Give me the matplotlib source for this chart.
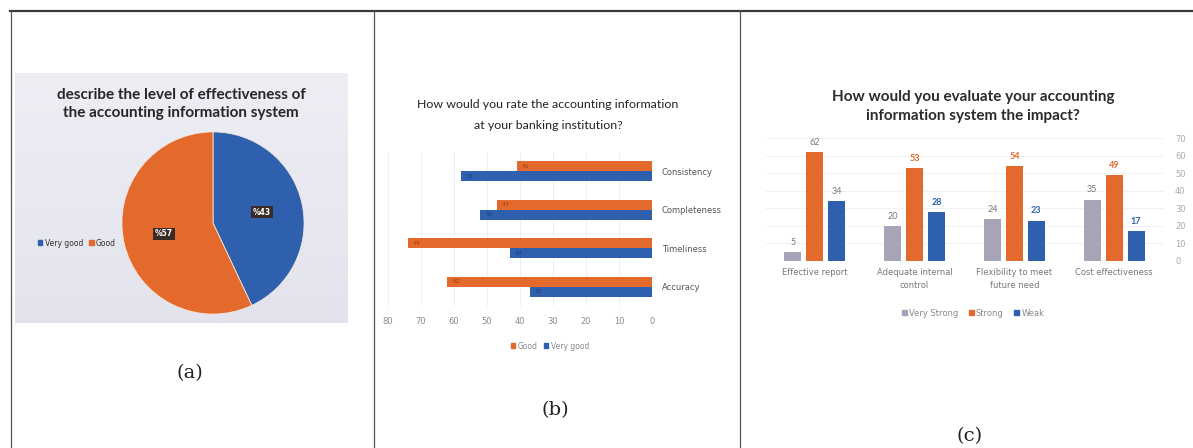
import matplotlib
matplotlib.use("Agg")
import matplotlib.pyplot as plt
from matplotlib.lines import Line2D
from matplotlib.patches import Patch
import numpy as np

W, H = 1193, 448

# (a) pie
pie_labels = ["Very good", "Good"]
pie_values = [43, 57]

# (b) horizontal bars
rate_cats = ["Consistency", "Completeness", "Timeliness", "Accuracy"]
rate_good = [41, 47, 74, 62]
rate_very_good = [58, 52, 43, 37]
rate_ticks = [0, 10, 20, 30, 40, 50, 60, 70, 80]

# (c) grouped bars
impact_cats = ["Effective report", "Adequate internal\ncontrol",
               "Flexibility to meet\nfuture need", "Cost effectiveness"]
impact_very_strong = [5, 20, 24, 35]
impact_strong = [62, 53, 54, 49]
impact_weak = [34, 28, 23, 17]

ORANGE = "#e4692c"
BLUE = "#2e60ad"
GREY = "#a6a5b8"
TXT = "#8a8a8a"


def rect(x0, y0, x1, y1):
    """pixel box (top-left origin) -> figure fraction rect"""
    return [x0 / W, 1 - y1 / H, (x1 - x0) / W, (y1 - y0) / H]


def fx(x):
    return x / W


def fy(y):
    return 1 - y / H


fig = plt.figure(figsize=(W / 100, H / 100), dpi=100)
fig.patch.set_facecolor("white")

# frame lines
fig.add_artist(Line2D([fx(10), fx(1193)], [fy(11), fy(11)], color="#3a3a3a", lw=1.6))
for xv in [10.5, 374, 740]:
    fig.add_artist(Line2D([fx(xv), fx(xv)], [fy(11), fy(448)], color="#555555", lw=0.9))

# ---------------- (a) ----------------
bg = fig.add_axes(rect(15, 73, 348, 323))
grad = np.linspace(0, 1, 100).reshape(-1, 1)
bg.imshow(grad, aspect="auto", cmap=matplotlib.colors.LinearSegmentedColormap.from_list(
    "bgc", ["#eeeff5", "#e2e3ec"]), extent=[0, 1, 0, 1])
bg.set_axis_off()

fig.text(fx(181), fy(95), "describe the level of effectiveness of",
         ha="center", va="center", fontsize=11, fontweight="bold",
         family="Lato", color="#262626")
fig.text(fx(181), fy(113), "the accounting information system",
         ha="center", va="center", fontsize=11, fontweight="bold",
         family="Lato", color="#262626")

axp = fig.add_axes(rect(121, 131, 305, 315))
wedges, _, autotexts = axp.pie(
    pie_values, colors=[BLUE, ORANGE], startangle=90, counterclock=False,
    autopct=lambda p: "%{:.0f}".format(p), pctdistance=0.55,
    wedgeprops=dict(linewidth=0.6, edgecolor="#f3e6dc"))
for t in autotexts:
    t.set_color("white")
    t.set_fontsize(5.5)
    t.set_fontweight("bold")
    t.set_bbox(dict(boxstyle="square,pad=0.25", facecolor="#3b2b25", edgecolor="none"))
axp.set_xlim(-1.01, 1.01)
axp.set_ylim(-1.01, 1.01)
axp.set_aspect("equal")
axp.set_axis_off()

fig.legend([Patch(color=BLUE), Patch(color=ORANGE)], pie_labels,
           loc="center left", bbox_to_anchor=(fx(31), fy(243)), ncol=2,
           frameon=False, fontsize=5.5, handlelength=0.6, handleheight=0.6,
           handletextpad=0.3, columnspacing=0.8, labelcolor="#333333")

fig.text(fx(190), fy(373), "(a)", ha="center", va="center",
         fontsize=14, family="DejaVu Serif", color="#222222")

# ---------------- (b) ----------------
axb = fig.add_axes(rect(388, 152, 652, 306))
ypos = np.arange(len(rate_cats))[::-1]
bh = 0.26
axb.barh(ypos + bh / 2, rate_good, height=bh, color=ORANGE, label="Good", zorder=2)
axb.barh(ypos - bh / 2, rate_very_good, height=bh, color=BLUE, label="Very good", zorder=2)
for yy, g, v in zip(ypos, rate_good, rate_very_good):
    axb.text(g - 1.5, yy + bh / 2, str(g), ha="left", va="center",
             fontsize=4.5, color="#7a3010", alpha=0.7, zorder=3)
    axb.text(v - 1.5, yy - bh / 2, str(v), ha="left", va="center",
             fontsize=4.5, color="#173060", alpha=0.7, zorder=3)
axb.set_xlim(80, 0)
axb.set_ylim(-0.5, len(rate_cats) - 0.5)
axb.set_xticks(rate_ticks)
axb.set_xticklabels([str(t) for t in rate_ticks], fontsize=6, color=TXT)
axb.yaxis.tick_right()
axb.set_yticks(ypos)
axb.set_yticklabels(rate_cats, fontsize=6, color="#555555")
axb.tick_params(length=0, pad=8)
axb.tick_params(axis="y", pad=7)
axb.grid(axis="x", color="#ececec", lw=0.6, zorder=0)
for s in axb.spines.values():
    s.set_visible(False)
axb.set_facecolor("white")

fig.text(fx(548), fy(105), "How would you rate the accounting information",
         ha="center", va="center", fontsize=8.9, family="Lato", color="#222222")
fig.text(fx(548), fy(125), "at your banking institution?",
         ha="center", va="center", fontsize=8.9, family="Lato", color="#222222")

fig.legend([Patch(color=ORANGE), Patch(color=BLUE)], ["Good", "Very good"],
           loc="center", bbox_to_anchor=(fx(550), fy(346)), ncol=2,
           frameon=False, fontsize=5.5, handlelength=0.6, handleheight=0.6,
           handletextpad=0.3, columnspacing=0.8, labelcolor=TXT)

fig.text(fx(555), fy(410), "(b)", ha="center", va="center",
         fontsize=14, family="DejaVu Serif", color="#222222")

# ---------------- (c) ----------------
axc = fig.add_axes(rect(765, 138, 1164, 261))
xg = np.arange(len(impact_cats))
step, bw = 0.22, 0.17
series = [(impact_very_strong, GREY, "Very Strong", -step),
          (impact_strong, ORANGE, "Strong", 0),
          (impact_weak, BLUE, "Weak", step)]
for vals, col, lab, off in series:
    axc.bar(xg + off, vals, width=bw, color=col, label=lab, zorder=2)
    for i, v in enumerate(vals):
        if i == 0 or lab == "Very Strong":
            tc, fw = "#777777", "normal"
        else:
            tc, fw = col, "bold"
        axc.text(xg[i] + off, v + 3, str(v), ha="center", va="bottom",
                 fontsize=6.5, color=tc, fontweight=fw, family="Lato")
axc.set_xlim(-0.5, len(impact_cats) - 0.5)
axc.set_ylim(0, 70)
axc.set_yticks(range(0, 71, 10))
axc.yaxis.tick_right()
axc.set_yticklabels([str(t) for t in range(0, 71, 10)], fontsize=6, color="#aaaaaa")
axc.set_xticks(xg)
axc.set_xticklabels(impact_cats, fontsize=6, color="#777777", linespacing=1.6)
axc.tick_params(length=0)
axc.tick_params(axis="x", pad=5)
axc.tick_params(axis="y", pad=8)
axc.grid(axis="y", color="#f0f0f0", lw=0.6, zorder=0)
for s in axc.spines.values():
    s.set_visible(False)

fig.text(fx(973), fy(97), "How would you evaluate your accounting",
         ha="center", va="center", fontsize=11, fontweight="bold",
         family="Lato", color="#2b2b2b")
fig.text(fx(973), fy(116), "information system the impact?",
         ha="center", va="center", fontsize=11, fontweight="bold",
         family="Lato", color="#2b2b2b")

fig.legend([Patch(color=GREY), Patch(color=ORANGE), Patch(color=BLUE)],
           ["Very Strong", "Strong", "Weak"],
           loc="center", bbox_to_anchor=(fx(973), fy(313)), ncol=3,
           frameon=False, fontsize=6, handlelength=0.6, handleheight=0.6,
           handletextpad=0.3, columnspacing=1.2, labelcolor="#888888")

fig.text(fx(970), fy(436), "(c)", ha="center", va="center",
         fontsize=14, family="DejaVu Serif", color="#222222")

fig.savefig("out.png", dpi=100)
